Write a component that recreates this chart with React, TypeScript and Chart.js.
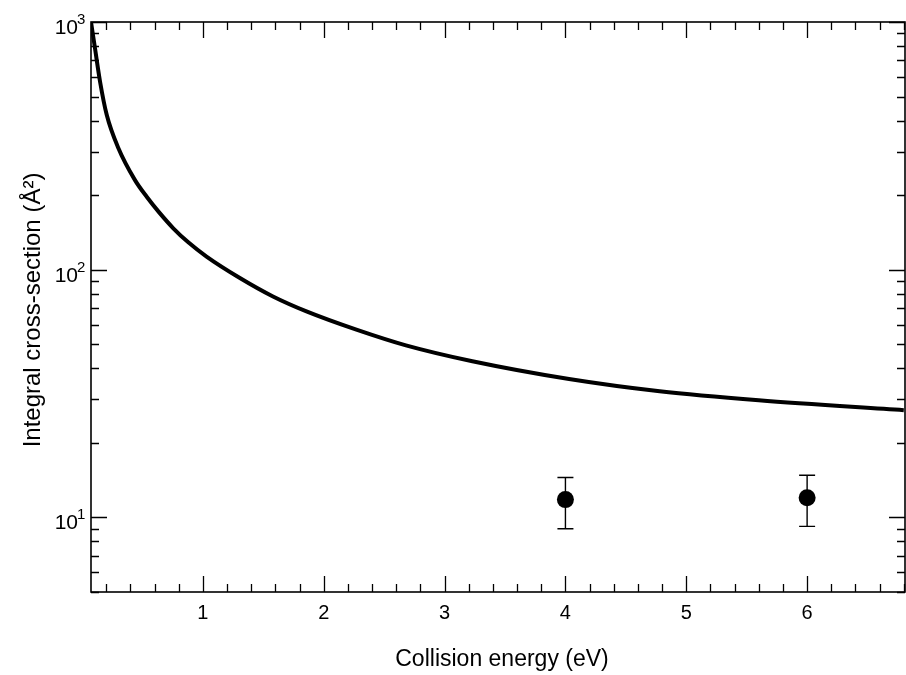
import React, { useEffect, useRef } from "react";
import { Chart, registerables } from "chart.js";

Chart.register(...registerables);

// Theoretical curve: collision energy (eV) vs integral cross-section (Å^2)
const energy = [0.074, 0.107, 0.149, 0.204, 0.3, 0.438, 0.535, 0.631, 0.755, 0.879, 1.03, 1.306, 1.58, 1.857, 2.27, 2.68, 3.23, 4.03, 4.78, 5.6, 6.8];
const crossSection = [1000, 783, 574, 422, 310, 230, 197, 172, 147, 129, 113, 92.6, 78, 67.9, 57.3, 49.5, 42.7, 36.2, 32.3, 29.7, 27.1];

// Experimental points with error bars
const expEnergy = [4, 6];
const expValue = [11.8, 12.0];
const expLow = [9.0, 9.2];
const expHigh = [14.5, 14.8];

// Axis ticks
const xTickValues = [1, 2, 3, 4, 5, 6];
const yTickExponents = [1, 2, 3];

const X_MIN = 0.074;
const X_MAX = 6.81;
const Y_MIN = 5;
const Y_MAX = 1000;

const FONT = "'Liberation Sans', Arial, Helvetica, sans-serif";

const framePlugin = {
  id: "frame",
  afterDatasetsDraw(chart: any) {
    const { ctx, chartArea } = chart;
    const xs = chart.scales.x;
    const ys = chart.scales.y;
    const { left, right, top, bottom } = chartArea;
    ctx.save();
    ctx.strokeStyle = "#000";
    ctx.fillStyle = "#000";

    // error bars
    ctx.lineWidth = 1.4;
    for (let i = 0; i < expEnergy.length; i++) {
      const px = xs.getPixelForValue(expEnergy[i]);
      const pLo = ys.getPixelForValue(expLow[i]);
      const pHi = ys.getPixelForValue(expHigh[i]);
      ctx.beginPath();
      ctx.moveTo(px, pLo);
      ctx.lineTo(px, pHi);
      ctx.moveTo(px - 8, pLo);
      ctx.lineTo(px + 8, pLo);
      ctx.moveTo(px - 8, pHi);
      ctx.lineTo(px + 8, pHi);
      ctx.stroke();
    }

    // frame
    ctx.lineWidth = 1.6;
    ctx.strokeRect(left, top, right - left, bottom - top);

    // x ticks (minor every 0.2)
    ctx.lineWidth = 1.3;
    for (let i = 1; i * 0.2 < X_MAX; i++) {
      const v = i * 0.2;
      const major = i % 5 === 0;
      const len = major ? 16 : 8;
      const px = Math.round(xs.getPixelForValue(v)) + 0.5;
      ctx.beginPath();
      ctx.moveTo(px, bottom);
      ctx.lineTo(px, bottom - len);
      ctx.moveTo(px, top);
      ctx.lineTo(px, top + len);
      ctx.stroke();
    }

    // y ticks (log)
    for (let d = 0; d <= 3; d++) {
      const dec = Math.pow(10, d);
      for (let m = 1; m <= 9; m++) {
        const v = m * dec;
        if (v < Y_MIN || v > Y_MAX) continue;
        const major = m === 1;
        const len = major ? 16 : 8;
        const py = Math.round(ys.getPixelForValue(v)) + 0.5;
        ctx.beginPath();
        ctx.moveTo(left, py);
        ctx.lineTo(left + len, py);
        ctx.moveTo(right, py);
        ctx.lineTo(right - len, py);
        ctx.stroke();
      }
    }

    // x tick labels
    ctx.font = `20px ${FONT}`;
    ctx.textAlign = "center";
    ctx.textBaseline = "alphabetic";
    for (const v of xTickValues) {
      ctx.fillText(String(v), xs.getPixelForValue(v), 619);
    }

    // y tick labels 10^n
    for (const e of yTickExponents) {
      const py = ys.getPixelForValue(Math.pow(10, e));
      ctx.font = `21px ${FONT}`;
      ctx.textAlign = "right";
      ctx.fillText("10", 78, py + 12);
      ctx.font = `15px ${FONT}`;
      ctx.textAlign = "left";
      ctx.fillText(String(e), 77, py + 2);
    }

    // x title
    ctx.font = `23px ${FONT}`;
    ctx.textAlign = "center";
    ctx.fillText("Collision energy (eV)", (left + right) / 2 + 4, 666);

    // y title
    ctx.save();
    ctx.translate(40, (top + bottom) / 2 + 3);
    ctx.rotate(-Math.PI / 2);
    ctx.font = `24px ${FONT}`;
    ctx.textAlign = "center";
    ctx.fillText("Integral cross-section (Å²)", 0, 0);
    ctx.restore();

    ctx.restore();
  },
};

export default function App() {
  const canvasRef = useRef<HTMLCanvasElement | null>(null);

  useEffect(() => {
    if (!canvasRef.current) return;
    const chart = new Chart(canvasRef.current, {
      type: "line",
      data: {
        datasets: [
          {
            type: "line",
            data: energy.map((e, i) => ({ x: e, y: crossSection[i] })),
            borderColor: "#000",
            borderWidth: 4,
            pointRadius: 0,
            cubicInterpolationMode: "monotone",
            fill: false,
          },
          {
            type: "scatter",
            data: expEnergy.map((e, i) => ({ x: e, y: expValue[i] })),
            backgroundColor: "#000",
            borderColor: "#000",
            borderWidth: 0,
            pointRadius: 8.5,
          },
        ],
      } as any,
      options: {
        animation: false,
        responsive: false,
        maintainAspectRatio: false,
        devicePixelRatio: 1,
        layout: { autoPadding: false, padding: { left: 91, right: 1, top: 22, bottom: 83 } },
        plugins: { legend: { display: false }, tooltip: { enabled: false } },
        scales: {
          x: { type: "linear", min: X_MIN, max: X_MAX, display: false },
          y: { type: "logarithmic", min: Y_MIN, max: Y_MAX, display: false },
        },
      } as any,
      plugins: [framePlugin],
    });
    return () => chart.destroy();
  }, []);

  return (
    <div style={{ position: "fixed", left: 0, top: 0, width: 906, height: 675, background: "#fff" }}>
      <canvas ref={canvasRef} width={906} height={675} style={{ display: "block", width: 906, height: 675 }} />
    </div>
  );
}
